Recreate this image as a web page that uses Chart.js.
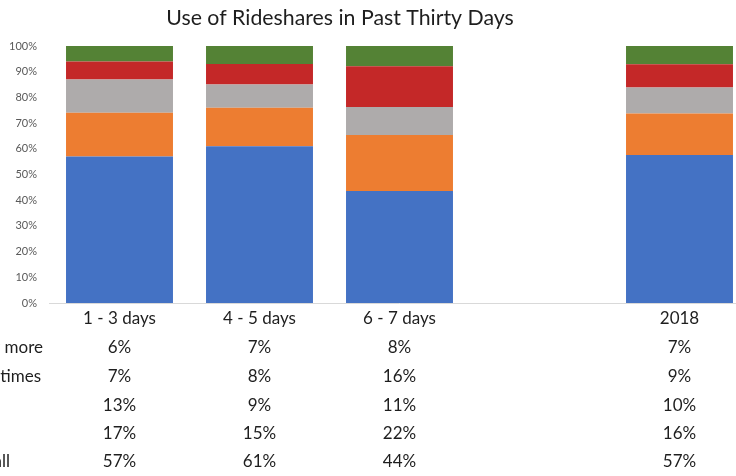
<!DOCTYPE html>
<html>
<head>
<meta charset="utf-8">
<script src="https://cdn.jsdelivr.net/npm/chart.js@4"></script>
<style>
  html, body { margin: 0; padding: 0; background: #fff; overflow: hidden; width: 736px; height: 476px; }
  #c { position: absolute; left: -80px; top: 0; }
</style>
</head>
<body>
<canvas id="c" width="840" height="476"></canvas>
<script>
// ---- Data ----
const categories = ['1 - 3 days', '4 - 5 days', '6 - 7 days', '', '2018'];
const seriesNames = ['Not at all', 'Once', 'Twice', 'Several times', 'Daily or more']; // bottom -> top
const notAtAll     = [57, 61, 44, null, 57];
const once         = [17, 15, 22, null, 16];
const twice        = [13,  9, 11, null, 10];
const severalTimes = [ 7,  8, 16, null,  9];
const dailyOrMore  = [ 6,  7,  8, null,  7];
const seriesColors = ['#4472C4', '#ED7D31', '#AEABAB', '#C42828', '#548235'];
const titleText = 'Use of Rideshares in Past Thirty Days';

const FONT = 'Lato, "Open Sans", sans-serif';
const series = [notAtAll, once, twice, severalTimes, dailyOrMore];

// 100% stacked: normalise each category to its total
const totals = categories.map((_, i) => series.reduce((s, arr) => s + (arr[i] || 0), 0));
const datasets = series.map((arr, k) => ({
  label: seriesNames[k],
  data: arr.map((v, i) => v == null ? null : v / totals[i] * 100),
  backgroundColor: seriesColors[k],
  borderWidth: 0,
  barPercentage: 0.764,
  categoryPercentage: 1.0
}));

// Data table drawn under the axis, columns aligned with the category scale
const dataTablePlugin = {
  id: 'dataTable',
  afterDraw(chart) {
    const ctx = chart.ctx;
    const xs = chart.scales.x;
    const bottom = chart.chartArea.bottom;
    const rowOffsets = [45, 74, 103, 131, 159];
    const rows = series.slice().reverse();
    const names = seriesNames.slice().reverse();
    ctx.save();
    ctx.font = '17px ' + FONT;
    ctx.fillStyle = '#1e1e1e';
    ctx.textBaseline = 'middle';
    rows.forEach((arr, r) => {
      const y = bottom + rowOffsets[r];
      ctx.textAlign = 'left';
      ctx.fillText(names[r], 22, y);
      ctx.textAlign = 'center';
      arr.forEach((v, i) => {
        if (v == null) return;
        ctx.fillText(v + '%', xs.getPixelForValue(i), y);
      });
    });
    ctx.restore();
  }
};

new Chart(document.getElementById('c'), {
  type: 'bar',
  data: { labels: categories, datasets },
  plugins: [dataTablePlugin],
  options: {
    responsive: false,
    animation: false,
    layout: { padding: { left: 10.5, right: 10.5, top: 0, bottom: 0 } },
    plugins: {
      legend: { display: false },
      tooltip: { enabled: false },
      title: {
        display: true,
        text: titleText,
        color: '#1e1e1e',
        font: { family: FONT, size: 21.3, weight: 'normal', lineHeight: 1.2 },
        padding: { top: 5, bottom: 15.4 }
      }
    },
    scales: {
      x: {
        stacked: true,
        grid: { display: false, drawTicks: false },
        border: { display: true, color: '#D9D9D9', width: 1 },
        ticks: { font: { family: FONT, size: 17 }, color: '#1e1e1e', padding: 5.8, maxRotation: 0, autoSkip: false },
        afterFit(s) { s.height = 173; }
      },
      y: {
        stacked: true,
        min: 0, max: 100,
        grid: { display: false, drawTicks: false },
        border: { display: false },
        ticks: { stepSize: 10, callback: v => v + '%', font: { family: FONT, size: 11 }, color: '#595959', padding: 12.5 },
        afterFit(s) { s.width = 119; }
      }
    }
  }
});
</script>
</body>
</html>
